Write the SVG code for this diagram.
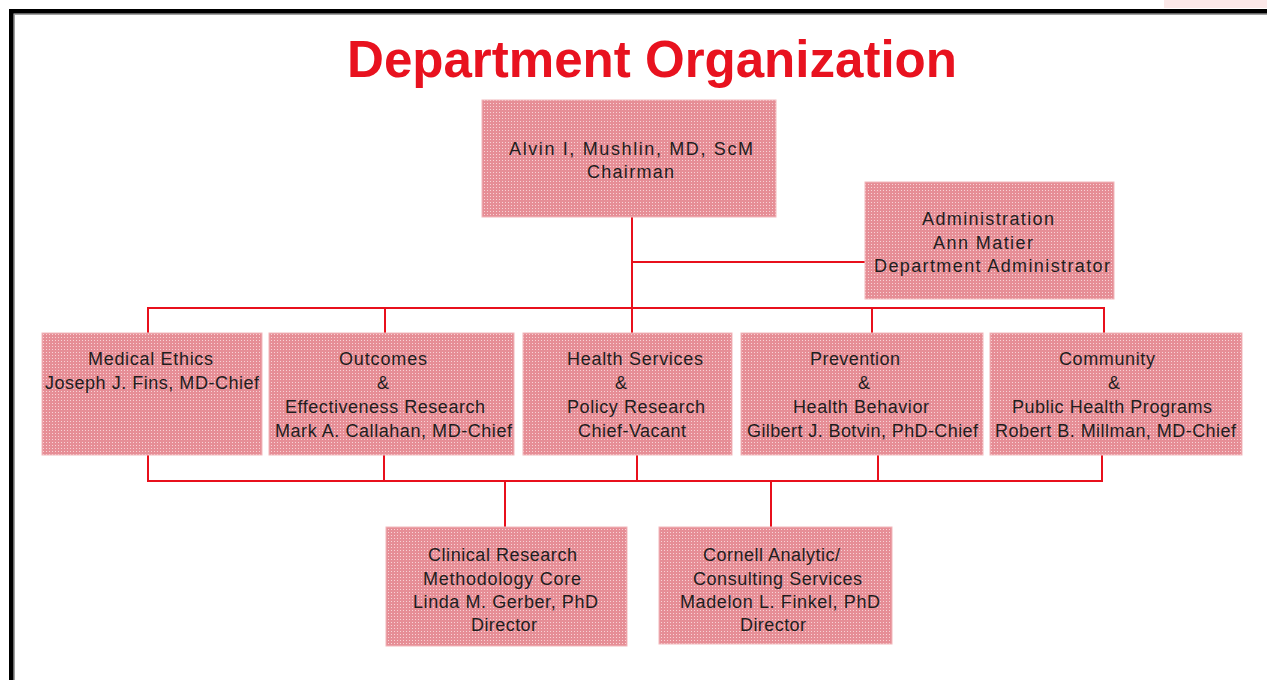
<svg xmlns="http://www.w3.org/2000/svg" width="1267" height="680" viewBox="0 0 1267 680">
<defs>
<pattern id="dots" width="3" height="3" patternUnits="userSpaceOnUse">
<rect width="3" height="3" fill="#e68e96"/>
<rect x="1" y="1" width="1" height="1" fill="#f8d3d6"/>
</pattern>
<style>
.box{fill:url(#dots);stroke:#f2b8bc;stroke-width:1}
.t{font-family:"Liberation Sans",Arial,sans-serif;font-size:18px;fill:#1e1e1e}
.amp{font-family:"Liberation Sans",Arial,sans-serif;font-size:18px;fill:#1e1e1e;text-anchor:middle}
.ln{fill:none;stroke:#e8101c;stroke-width:2}
</style>
</defs>
<rect width="1267" height="680" fill="#ffffff"/>
<rect x="1164" y="0" width="103" height="8" fill="#fbe8e8"/>
<path d="M14.25 680 V14.25 H1267" fill="none" stroke="#a0a0a0" stroke-width="1.5"/>
<path d="M11.25 680 V11.25 H1267" fill="none" stroke="#000000" stroke-width="4.5"/>
<text x="347" y="77" textLength="610" lengthAdjust="spacingAndGlyphs" font-family="Liberation Sans, Arial, sans-serif" font-size="52" font-weight="bold" fill="#e8121f">Department Organization</text>

<g id="connectors">
<path class="ln" d="M632 217 V333"/>
<path class="ln" d="M632 262 H865" stroke="#ee4a55" stroke-width="1.6"/>
<path class="ln" d="M148 333 V308 H1104 V333"/>
<path class="ln" d="M385 308 V333"/>
<path class="ln" d="M872 308 V333"/>
<path class="ln" d="M148 455 V481 H1102 V455"/>
<path class="ln" d="M384 455 V481"/>
<path class="ln" d="M637 455 V481"/>
<path class="ln" d="M878 455 V481"/>
<path class="ln" d="M505 481 V527"/>
<path class="ln" d="M771 481 V527"/>
</g>

<g id="chairman">
<rect class="box" x="482" y="100" width="294" height="117"/>
<text class="t" x="509" y="155" textLength="244" lengthAdjust="spacing">Alvin I, Mushlin, MD, ScM</text>
<text class="t" x="587" y="178" textLength="87" lengthAdjust="spacing">Chairman</text>
</g>

<g id="administration">
<rect class="box" x="865" y="182" width="249" height="117"/>
<text class="t" x="922" y="225" textLength="132" lengthAdjust="spacing">Administration</text>
<text class="t" x="933" y="249" textLength="100" lengthAdjust="spacing">Ann Matier</text>
<text class="t" x="874" y="272" textLength="236" lengthAdjust="spacing">Department Administrator</text>
</g>

<g id="medical-ethics">
<rect class="box" x="42" y="333" width="220" height="122"/>
<text class="t" x="88" y="365" textLength="125" lengthAdjust="spacing">Medical Ethics</text>
<text class="t" x="45" y="389" textLength="214" lengthAdjust="spacing">Joseph J. Fins, MD-Chief</text>
</g>

<g id="outcomes">
<rect class="box" x="269" y="333" width="245" height="122"/>
<text class="t" x="339" y="365" textLength="88" lengthAdjust="spacing">Outcomes</text>
<text class="amp" x="383" y="389">&amp;</text>
<text class="t" x="285" y="413" textLength="200" lengthAdjust="spacing">Effectiveness Research</text>
<text class="t" x="275" y="437" textLength="237" lengthAdjust="spacing">Mark A. Callahan, MD-Chief</text>
</g>

<g id="health-services">
<rect class="box" x="523" y="333" width="209" height="122"/>
<text class="t" x="567" y="365" textLength="136" lengthAdjust="spacing">Health Services</text>
<text class="amp" x="621" y="389">&amp;</text>
<text class="t" x="567" y="413" textLength="138" lengthAdjust="spacing">Policy Research</text>
<text class="t" x="578" y="437" textLength="108" lengthAdjust="spacing">Chief-Vacant</text>
</g>

<g id="prevention">
<rect class="box" x="741" y="333" width="242" height="122"/>
<text class="t" x="810" y="365" textLength="90" lengthAdjust="spacing">Prevention</text>
<text class="amp" x="864" y="389">&amp;</text>
<text class="t" x="793" y="413" textLength="136" lengthAdjust="spacing">Health Behavior</text>
<text class="t" x="747" y="437" textLength="231" lengthAdjust="spacing">Gilbert J. Botvin, PhD-Chief</text>
</g>

<g id="community">
<rect class="box" x="990" y="333" width="252" height="122"/>
<text class="t" x="1059" y="365" textLength="96" lengthAdjust="spacing">Community</text>
<text class="amp" x="1114" y="389">&amp;</text>
<text class="t" x="1012" y="413" textLength="200" lengthAdjust="spacing">Public Health Programs</text>
<text class="t" x="995" y="437" textLength="241" lengthAdjust="spacing">Robert B. Millman, MD-Chief</text>
</g>

<g id="clinical-research">
<rect class="box" x="386" y="527" width="241" height="119"/>
<text class="t" x="428" y="561" textLength="149" lengthAdjust="spacing">Clinical Research</text>
<text class="t" x="423" y="585" textLength="158" lengthAdjust="spacing">Methodology Core</text>
<text class="t" x="413" y="608" textLength="185" lengthAdjust="spacing">Linda M. Gerber, PhD</text>
<text class="t" x="471" y="631" textLength="66" lengthAdjust="spacing">Director</text>
</g>

<g id="cornell-analytic">
<rect class="box" x="659" y="527" width="233" height="117"/>
<text class="t" x="703" y="561" textLength="137" lengthAdjust="spacing">Cornell Analytic/</text>
<text class="t" x="693" y="585" textLength="169" lengthAdjust="spacing">Consulting Services</text>
<text class="t" x="680" y="608" textLength="200" lengthAdjust="spacing">Madelon L. Finkel, PhD</text>
<text class="t" x="740" y="631" textLength="66" lengthAdjust="spacing">Director</text>
</g>
</svg>
